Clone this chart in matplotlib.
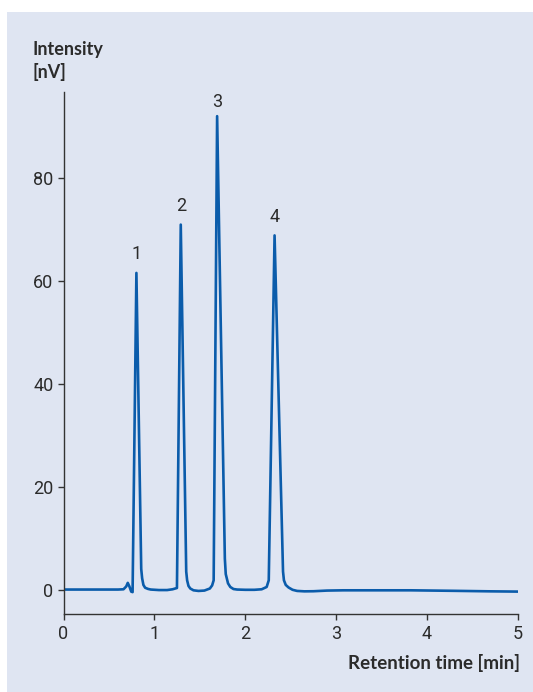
import matplotlib
matplotlib.use("Agg")
import matplotlib.pyplot as plt
from matplotlib.patches import Rectangle

# chromatogram trace (time in min, intensity in nV)
time = [0.0, 0.3, 0.6, 0.66, 0.69, 0.707, 0.725, 0.745, 0.76,
        0.802, 0.855, 0.865, 0.879, 0.898, 0.93, 0.96, 1.05, 1.14, 1.2, 1.248,
        1.29, 1.35, 1.36, 1.375, 1.395, 1.43, 1.485, 1.55, 1.61, 1.635, 1.652,
        1.69, 1.775, 1.785, 1.81, 1.835, 1.87, 1.91, 2.0, 2.1, 2.18, 2.235, 2.258,
        2.322, 2.415, 2.425, 2.445, 2.476, 2.52, 2.57, 2.65, 2.75, 2.9, 3.08,
        3.4, 3.82, 4.3, 4.7, 5.0]
intensity = [0.0, 0.0, 0.0, 0.05, 0.6, 1.3, 0.6, -0.4, -0.5,
             61.6, 4.0, 2.2, 0.9, 0.35, 0.12, 0.0, -0.1, -0.1, 0.05, 0.3,
             71.0, 3.5, 1.8, 0.7, 0.2, -0.15, -0.27, -0.2, 0.2, 0.8, 1.8,
             92.1, 6.0, 3.0, 1.2, 0.5, 0.1, 0.0, -0.05, -0.05, 0.05, 0.5, 1.8,
             68.9, 3.5, 1.8, 0.9, 0.4, -0.05, -0.27, -0.35, -0.33, -0.2, -0.15,
             -0.15, -0.15, -0.25, -0.35, -0.4]

peak_labels = ["1", "2", "3", "4"]
peak_time = [0.802, 1.29, 1.69, 2.322]
peak_height = [61.6, 71.0, 92.1, 68.9]

x_ticks = [0, 1, 2, 3, 4, 5]
y_ticks = [0, 20, 40, 60, 80]

line_color = "#0b5cab"
text_color = "#2b2b2b"
panel_color = "#dfe5f2"
label_gap = [10, 10, 6.5, 10]  # points between peak top and its number

plt.rcParams['font.family'] = ['Roboto', 'DejaVu Sans']
title_font = ['Lato', 'DejaVu Sans']

fig = plt.figure(figsize=(5.33, 6.92), dpi=100)
fig.patch.set_facecolor("white")
# light panel behind everything
fig.patches.append(Rectangle((7 / 533, 0), 1 - 7 / 533, 1 - 12 / 692,
                             transform=fig.transFigure, facecolor=panel_color,
                             edgecolor="none", zorder=-10))

ax = fig.add_axes([63.5 / 533, 1 - 613.7 / 692, (518 - 63.5) / 533, (613.7 - 92) / 692])
ax.set_zorder(1)
ax.set_facecolor("none")
ax.plot(time, intensity, color=line_color, linewidth=1.9, solid_joinstyle="round")

for lab, t, h, gap in zip(peak_labels, peak_time, peak_height, label_gap):
    ax.annotate(lab, (t, h), xytext=(0, gap), textcoords="offset points",
                ha="center", va="baseline", fontsize=13, color=text_color)

ax.set_xlim(0, 5)
ax.set_ylim(-4.7, 96.8)
ax.set_xticks(x_ticks)
ax.set_yticks(y_ticks)
for side in ["top", "right"]:
    ax.spines[side].set_visible(False)
for side in ["left", "bottom"]:
    ax.spines[side].set_color("#333333")
    ax.spines[side].set_linewidth(1.0)
ax.tick_params(direction="out", length=4.3, width=1.0, color="#333333",
               labelsize=13, labelcolor=text_color)
ax.tick_params(axis="y", pad=3)
ax.tick_params(axis="x", pad=3.5)

fig.text(32 / 533, 1 - 55 / 692, "Intensity", fontsize=13, fontweight="bold",
         family=title_font, color=text_color, ha="left", va="baseline")
fig.text(32 / 533, 1 - 78 / 692, "[nV]", fontsize=13, fontweight="bold",
         family=title_font, color=text_color, ha="left", va="baseline")
fig.text(519.5 / 533, 1 - 668.8 / 692, "Retention time [min]", fontsize=13.5,
         fontweight="bold", family=title_font, color=text_color,
         ha="right", va="baseline")

fig.savefig("out.png", dpi=100, facecolor=fig.get_facecolor())
